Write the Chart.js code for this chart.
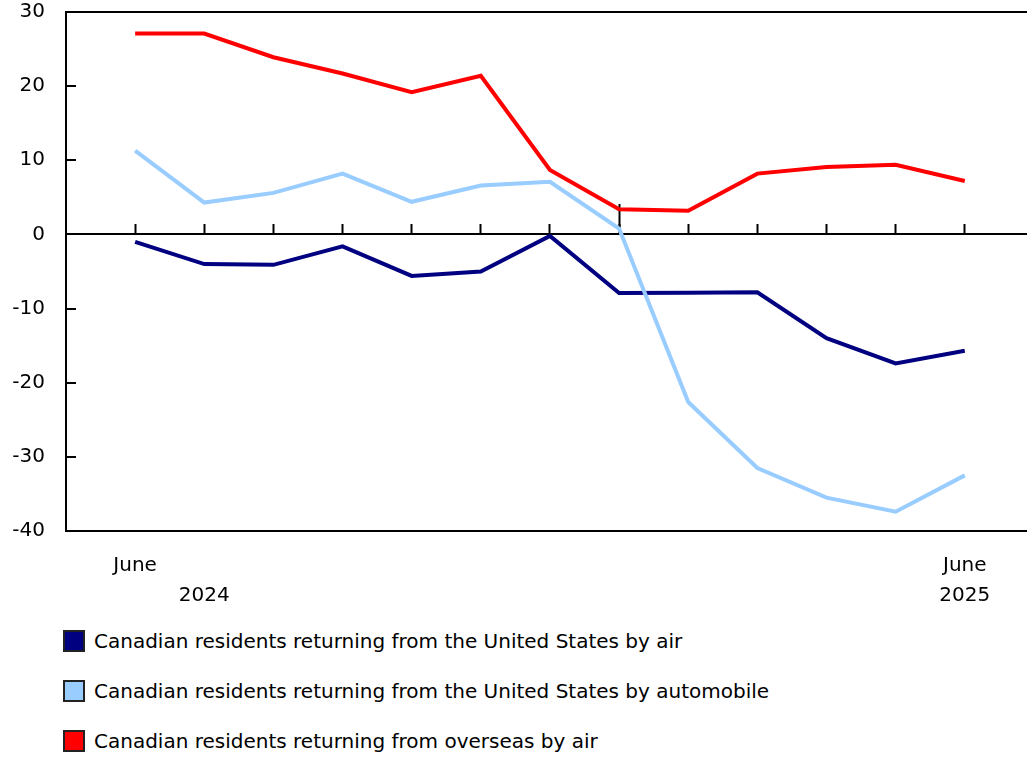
<!DOCTYPE html>
<html lang="en">
<head>
    <meta charset="UTF-8">
    <title>Canadian residents returning trips, June 2024 to June 2025</title>
    <script src="https://cdn.jsdelivr.net/npm/chart.js"></script>
    <style>
        body { margin: 0; background: #fff; font-family: "DejaVu Sans", Verdana, sans-serif; }
        #wrap { position: relative; width: 1027px; height: 610px; }
        #legend { position: absolute; left: 63px; top: 629px; }
        .item { display: flex; align-items: center; height: 24px; margin-bottom: 26px; font-size: 20px; color: #000; }
        .box { width: 18px; height: 18px; border: 2px solid #222; margin-right: 9px; }
    </style>
</head>
<body>
    <div id="wrap"><canvas id="chart"></canvas></div>
    <div id="legend"></div>

    <script>
        // months, June 2024 .. June 2025
        const months = ['Jun 2024', 'Jul 2024', 'Aug 2024', 'Sep 2024', 'Oct 2024', 'Nov 2024', 'Dec 2024',
                        'Jan 2025', 'Feb 2025', 'Mar 2025', 'Apr 2025', 'May 2025', 'Jun 2025'];
        const monthTicks = ['June', '', '', '', '', '', '', '', '', '', '', '', 'June'];
        const yearTicks = ['', '2024', '', '', '', '', '', '', '', '', '', '', '2025'];

        const usAir = [-1.0, -4.0, -4.1, -1.6, -5.6, -5.0, -0.2, -7.9, -7.85, -7.8, -14.0, -17.4, -15.7];
        const usAuto = [11.3, 4.3, 5.6, 8.2, 4.4, 6.6, 7.1, 0.8, -22.6, -31.5, -35.5, -37.4, -32.5];
        const overseasAir = [27.1, 27.1, 23.9, 21.7, 19.2, 21.4, 8.7, 3.4, 3.2, 8.2, 9.1, 9.4, 7.2];

        const seriesNames = [
            'Canadian residents returning from the United States by air',
            'Canadian residents returning from the United States by automobile',
            'Canadian residents returning from overseas by air'
        ];
        const seriesColors = ['#000080', '#99ccff', '#ff0000'];

        Chart.defaults.font.family = '"DejaVu Sans", Verdana, sans-serif';
        Chart.defaults.font.size = 20;
        Chart.defaults.color = '#000';

        const toPoints = arr => arr.map((v, i) => ({ x: i, y: v }));
        const allTicks = s => { s.ticks = months.map((_, i) => ({ value: i })); };

        new Chart(document.getElementById('chart'), {
            type: 'line',
            data: {
                datasets: [
                    { label: seriesNames[0], data: toPoints(usAir), borderColor: seriesColors[0], order: 3 },
                    { label: seriesNames[1], data: toPoints(usAuto), borderColor: seriesColors[1], order: 2 },
                    { label: seriesNames[2], data: toPoints(overseasAir), borderColor: seriesColors[2], order: 1 }
                ]
            },
            options: {
                responsive: true,
                maintainAspectRatio: false,
                animation: false,
                layout: { padding: 0 },
                elements: {
                    line: { borderWidth: 4, tension: 0, borderJoinStyle: 'miter' },
                    point: { radius: 0 }
                },
                plugins: { legend: { display: false }, tooltip: { enabled: false } },
                scales: {
                    x: {
                        type: 'linear', min: -1, max: 12.9,
                        afterBuildTicks: allTicks,
                        afterFit: s => { s.height = 79; },
                        ticks: {
                            autoSkip: false, maxRotation: 0, padding: 20,
                            font: { size: 20, lineHeight: 1.5 },
                            callback: v => [monthTicks[v], yearTicks[v]]
                        },
                        grid: { display: false, drawTicks: false },
                        border: { display: true, color: '#000', width: 2 }
                    },
                    // tick marks sitting on the zero line
                    x2: {
                        type: 'linear', min: -1, max: 12.9, position: { y: 0 },
                        afterBuildTicks: allTicks,
                        afterFit: s => { s.height = 0; },
                        ticks: { display: false },
                        grid: { drawOnChartArea: false, tickLength: -10, tickColor: '#000', tickWidth: 2 },
                        border: { display: false }
                    },
                    // longer mark at the year change (January)
                    x3: {
                        type: 'linear', min: -1, max: 12.9, position: { y: 0 },
                        afterBuildTicks: s => { s.ticks = [{ value: months.indexOf('Jan 2025') }]; },
                        afterFit: s => { s.height = 0; },
                        ticks: { display: false },
                        grid: { drawOnChartArea: false, tickLength: -30, tickColor: '#000', tickWidth: 2 },
                        border: { display: false }
                    },
                    y: {
                        min: -40, max: 30,
                        // fixed axis width; keep the big label padding from pushing the plot down
                        afterFit: s => { s.width = 66; s.paddingTop = 12; s.paddingBottom = 0; },
                        ticks: { stepSize: 10, padding: 31 },
                        grid: {
                            color: c => (c.tick && (c.tick.value === 0 || c.tick.value === 30)) ? '#000' : 'rgba(0,0,0,0)',
                            lineWidth: 2, tickColor: '#000', tickLength: -10, tickWidth: 2
                        },
                        border: { display: true, color: '#000', width: 2 }
                    }
                }
            }
        });

        const legend = document.getElementById('legend');
        seriesNames.forEach((name, i) => {
            const item = document.createElement('div');
            item.className = 'item';
            item.innerHTML = `<span class="box" style="background:${seriesColors[i]}"></span><span>${name}</span>`;
            legend.appendChild(item);
        });
    </script>
</body>
</html>
